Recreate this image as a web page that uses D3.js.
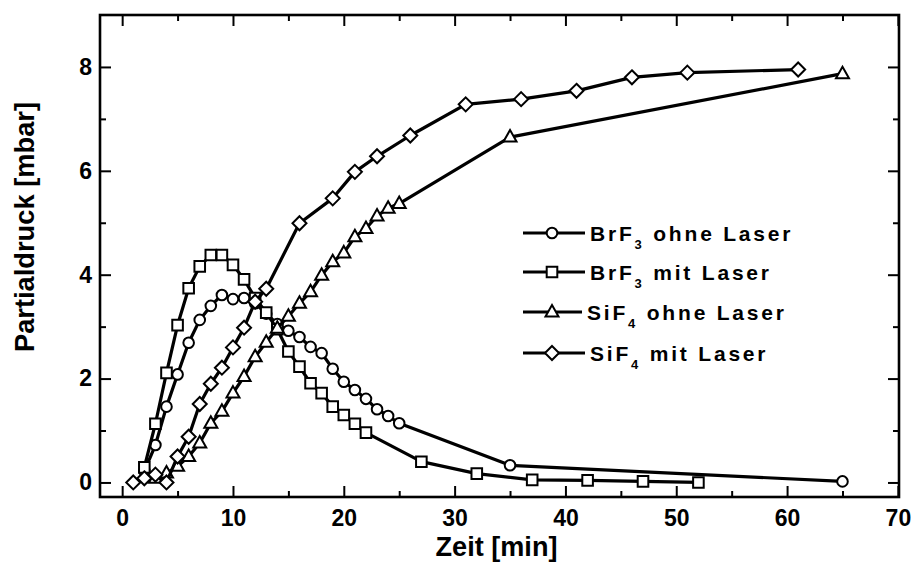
<!DOCTYPE html>
<html>
<head>
<meta charset="utf-8">
<script src="https://cdn.jsdelivr.net/npm/d3@7"></script>
<style>
  html, body { margin: 0; padding: 0; background: #fff; }
  svg { display: block; }
  text { font-family: "Liberation Sans", Arial, Helvetica, sans-serif; font-weight: bold; fill: #000; }
</style>
</head>
<body>
<svg id="chart" width="914" height="573"></svg>
<script>
// Partialdruck (mbar) über der Zeit (min)
const brf3OhneZeit  = [2,3,4,5,6,7,8,9,10,11,12,13,14,15,16,17,18,19,20,21,22,23,24,25,35,65];
const brf3OhneDruck = [0.22,0.72,1.46,2.08,2.69,3.13,3.40,3.61,3.53,3.55,3.45,3.25,3.05,2.92,2.80,2.61,2.49,2.19,1.94,1.78,1.61,1.41,1.28,1.14,0.33,0.02];

const brf3MitZeit  = [2,3,4,5,6,7,8,9,10,11,12,13,14,15,16,17,18,19,20,21,22,27,32,37,42,47,52];
const brf3MitDruck = [0.29,1.13,2.11,3.03,3.74,4.16,4.38,4.38,4.19,3.91,3.55,3.27,2.95,2.52,2.23,1.91,1.72,1.46,1.30,1.13,0.96,0.40,0.17,0.05,0.04,0.02,0.00];

const sif4OhneZeit  = [3,4,5,6,7,8,9,10,11,12,13,14,15,16,17,18,19,20,21,22,23,24,25,35,65];
const sif4OhneDruck = [0.08,0.18,0.31,0.50,0.76,1.14,1.37,1.72,2.04,2.42,2.70,2.97,3.20,3.45,3.67,3.99,4.25,4.42,4.73,4.89,5.13,5.28,5.37,6.65,7.87];

const sif4MitZeit  = [1,2,3,4,5,6,7,8,9,10,11,12,13,16,19,21,23,26,31,36,41,46,51,61];
const sif4MitDruck = [0.00,0.08,0.15,0.00,0.50,0.88,1.51,1.90,2.21,2.60,2.98,3.48,3.73,4.99,5.47,5.98,6.28,6.68,7.28,7.38,7.54,7.80,7.89,7.95];

// Legend entries: formula, subscript, remainder
const legendFormel = ["BrF", "BrF", "SiF", "SiF"];
const legendIndex  = ["3", "3", "4", "4"];
const legendRest   = [" ohne Laser", " mit Laser", " ohne Laser", " mit Laser"];

const xMajorTicks = [0,10,20,30,40,50,60,70];
const xMinorTicks = [5,15,25,35,45,55,65];
const yMajorTicks = [0,2,4,6,8];
const yMinorTicks = [1,3,5,7];

const xTitle = "Zeit [min]";
const yTitle = "Partialdruck [mbar]";

const series = [
  { zeit: brf3OhneZeit, druck: brf3OhneDruck, marker: "circle" },
  { zeit: brf3MitZeit,  druck: brf3MitDruck,  marker: "square" },
  { zeit: sif4OhneZeit, druck: sif4OhneDruck, marker: "triangle" },
  { zeit: sif4MitZeit,  druck: sif4MitDruck,  marker: "diamond" }
];

const frame = { left: 100, right: 899, top: 15, bottom: 497 };

const svg = d3.select("#chart");

const x = d3.scaleLinear().domain([-2, 70.1]).range([frame.left, frame.right]);
const y = d3.scaleLinear().domain([-0.28, 9]).range([frame.bottom, frame.top]);

// marker outlines centred on (0,0)
function markerPath(kind) {
  const p = d3.path();
  if (kind === "circle") {
    p.arc(0, 0, 5.3, 0, 2 * Math.PI);
  } else if (kind === "square") {
    p.rect(-5.3, -5.3, 10.6, 10.6);
  } else if (kind === "triangle") {
    p.moveTo(0, -7); p.lineTo(6.5, 4.5); p.lineTo(-6.5, 4.5); p.closePath();
  } else {
    p.moveTo(0, -7); p.lineTo(7, 0); p.lineTo(0, 7); p.lineTo(-7, 0); p.closePath();
  }
  return p.toString();
}

// axes with inward ticks on all four sides
const axisG = svg.append("g").attr("class", "axes");

function styleAxis(g) {
  g.select(".domain").remove();
  g.selectAll(".tick line").attr("stroke", "#000").attr("stroke-width", 2);
}
function styleLabels(g) {
  g.selectAll(".tick text")
    .attr("font-size", 23)
    .attr("font-family", "Liberation Sans, Arial, sans-serif")
    .attr("font-weight", "bold")
    .attr("fill", "#000");
}

axisG.append("g")
  .attr("transform", `translate(0,${frame.bottom})`)
  .call(d3.axisBottom(x).tickValues(xMajorTicks).tickSize(-11).tickPadding(13).tickFormat(d3.format("d")))
  .call(styleAxis)
  .call(styleLabels);
axisG.append("g")
  .attr("transform", `translate(0,${frame.bottom})`)
  .call(d3.axisBottom(x).tickValues(xMinorTicks).tickSize(-6).tickFormat(""))
  .call(styleAxis);
axisG.append("g")
  .attr("transform", `translate(0,${frame.top})`)
  .call(d3.axisTop(x).tickValues(xMajorTicks).tickSize(-11).tickFormat(""))
  .call(styleAxis);
axisG.append("g")
  .attr("transform", `translate(0,${frame.top})`)
  .call(d3.axisTop(x).tickValues(xMinorTicks).tickSize(-6).tickFormat(""))
  .call(styleAxis);

axisG.append("g")
  .attr("transform", `translate(${frame.left},0)`)
  .call(d3.axisLeft(y).tickValues(yMajorTicks).tickSize(-11).tickPadding(8).tickFormat(d3.format("d")))
  .call(styleAxis)
  .call(styleLabels);
axisG.append("g")
  .attr("transform", `translate(${frame.left},0)`)
  .call(d3.axisLeft(y).tickValues(yMinorTicks).tickSize(-6).tickFormat(""))
  .call(styleAxis);
axisG.append("g")
  .attr("transform", `translate(${frame.right},0)`)
  .call(d3.axisRight(y).tickValues(yMajorTicks).tickSize(-11).tickFormat(""))
  .call(styleAxis);
axisG.append("g")
  .attr("transform", `translate(${frame.right},0)`)
  .call(d3.axisRight(y).tickValues(yMinorTicks).tickSize(-6).tickFormat(""))
  .call(styleAxis);

// plot frame
svg.append("rect")
  .attr("x", frame.left).attr("y", frame.top)
  .attr("width", frame.right - frame.left).attr("height", frame.bottom - frame.top)
  .attr("fill", "none").attr("stroke", "#000").attr("stroke-width", 2.6);

// data series
const line = d3.line().x(d => x(d[0])).y(d => y(d[1]));
const plot = svg.append("g").attr("class", "series");

series.forEach(s => {
  const pts = s.zeit.map((t, i) => [t, s.druck[i]]);
  const g = plot.append("g");
  g.append("path")
    .datum(pts)
    .attr("d", line)
    .attr("fill", "none")
    .attr("stroke", "#000")
    .attr("stroke-width", 3.2)
    .attr("stroke-linejoin", "round");
  g.selectAll("path.marker")
    .data(pts)
    .join("path")
    .attr("class", "marker")
    .attr("d", markerPath(s.marker))
    .attr("transform", d => `translate(${x(d[0])},${y(d[1])})`)
    .attr("fill", "#fff")
    .attr("stroke", "#000")
    .attr("stroke-width", 2);
});

// legend
const legend = svg.append("g").attr("class", "legend");
const legendRows = [233, 272, 312, 353];
const legendTextX = [590, 590, 587, 590];
series.forEach((s, i) => {
  const ry = legendRows[i];
  legend.append("line")
    .attr("x1", 523).attr("x2", legendTextX[i] - 5)
    .attr("y1", ry).attr("y2", ry)
    .attr("stroke", "#000").attr("stroke-width", 3);
  legend.append("path")
    .attr("d", markerPath(s.marker))
    .attr("transform", `translate(552,${ry})`)
    .attr("fill", "#fff").attr("stroke", "#000").attr("stroke-width", 2);
  const t = legend.append("text")
    .attr("x", legendTextX[i]).attr("y", ry + 8)
    .attr("font-size", 21)
    .attr("letter-spacing", 2.8);
  t.append("tspan").text(legendFormel[i]);
  t.append("tspan").attr("font-size", 13).attr("dy", 8).text(legendIndex[i]);
  t.append("tspan").attr("dy", -8).text(legendRest[i]);
});

// axis titles
svg.append("text")
  .attr("x", (frame.left + frame.right) / 2 - 3)
  .attr("y", 556)
  .attr("text-anchor", "middle")
  .attr("font-size", 27)
  .attr("textLength", 122)
  .attr("lengthAdjust", "spacingAndGlyphs")
  .text(xTitle);

svg.append("text")
  .attr("transform", `translate(34,${(frame.top + frame.bottom) / 2 - 29}) rotate(-90)`)
  .attr("text-anchor", "middle")
  .attr("font-size", 27)
  .attr("textLength", 250)
  .attr("lengthAdjust", "spacingAndGlyphs")
  .text(yTitle);
</script>
</body>
</html>
